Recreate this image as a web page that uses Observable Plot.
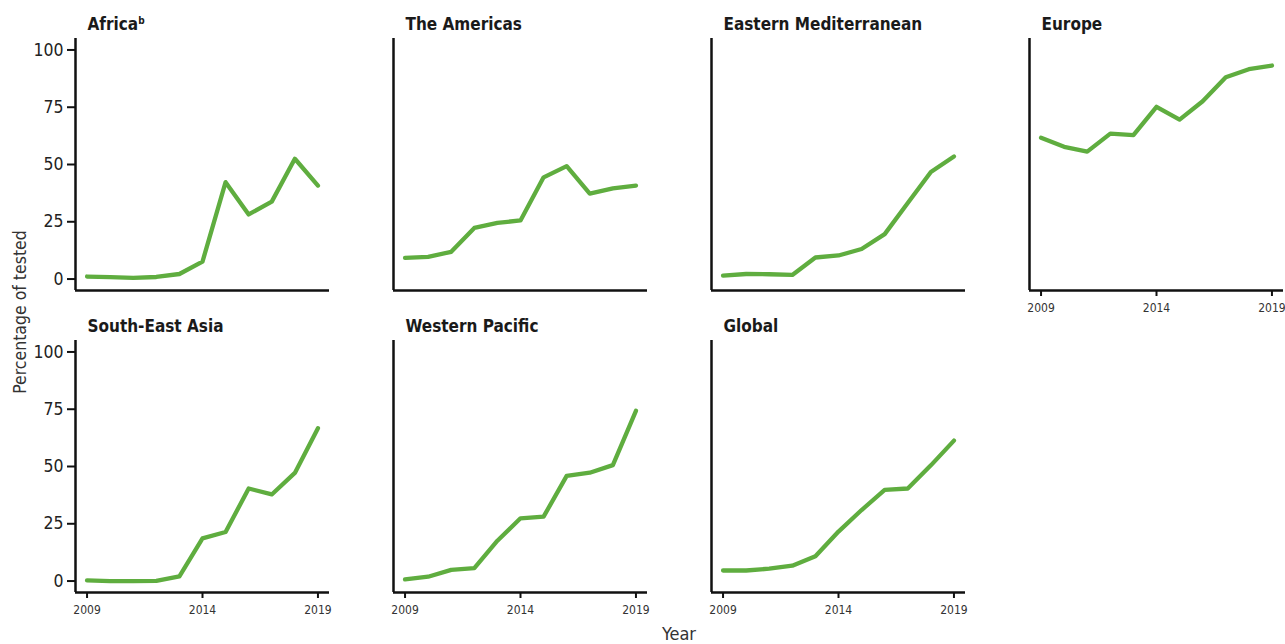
<!DOCTYPE html>
<html>
<head>
<meta charset="utf-8">
<script src="https://cdn.jsdelivr.net/npm/d3@7"></script>
<script src="https://cdn.jsdelivr.net/npm/@observablehq/plot@0.6"></script>
<style>
  html, body { margin: 0; padding: 0; background: #fff; }
  svg { display: block; }
</style>
</head>
<body>
<div id="chart"></div>
<script>
const years = [2009, 2010, 2011, 2012, 2013, 2014, 2015, 2016, 2017, 2018, 2019];
const regions = ["Africa", "The Americas", "Eastern Mediterranean", "Europe", "South-East Asia", "Western Pacific", "Global"];
const africa       = [1.1, 0.8, 0.5, 0.9, 2.2, 7.6, 42.3, 28.2, 33.8, 52.5, 40.8];
const americas     = [9.2, 9.7, 11.9, 22.3, 24.5, 25.6, 44.4, 49.3, 37.3, 39.6, 40.8];
const easternMed   = [1.5, 2.2, 2.1, 1.8, 9.4, 10.3, 13.1, 19.6, 33.2, 46.7, 53.5];
const europe       = [61.7, 57.7, 55.6, 63.5, 62.8, 75.2, 69.6, 77.6, 88.1, 91.6, 93.2];
const southEastAsia = [0.3, 0.0, 0.0, 0.1, 2.0, 18.6, 21.4, 40.4, 37.8, 47.2, 66.7];
const westernPacific = [0.7, 1.9, 4.9, 5.6, 17.6, 27.4, 28.1, 45.9, 47.3, 50.6, 74.3];
const globalSeries = [4.6, 4.6, 5.4, 6.7, 10.8, 21.6, 31.0, 39.8, 40.4, 50.5, 61.3];
const seriesValues = [africa, americas, easternMed, europe, southEastAsia, westernPacific, globalSeries];
const yTicks = [0, 25, 50, 75, 100];
const xTicks = [2009, 2014, 2019];
const yLabel = "Percentage of tested";
const xLabel = "Year";

const NCOL = 4;
const panels = regions.map((name, i) => ({name, col: i % NCOL, row: Math.floor(i / NCOL)}));
const rows = [];
regions.forEach((name, i) => {
  years.forEach((year, j) => {
    rows.push({region: name, year, value: seriesValues[i][j], col: i % NCOL, row: Math.floor(i / NCOL)});
  });
});

const FONT = "'Liberation Sans Narrow', 'DejaVu Sans Condensed', 'Roboto', sans-serif";

const svg = Plot.plot({
  width: 1285,
  height: 644,
  marginLeft: 74,
  marginRight: 2,
  marginTop: 37,
  marginBottom: 51,
  style: {fontFamily: FONT, background: "#fff", color: "#222"},
  x: {domain: [2008.5, 2019.5]},
  y: {domain: [-5, 105]},
  fx: {domain: [0, 1, 2, 3], paddingInner: 0.2023, paddingOuter: 0, axis: null},
  fy: {domain: [0, 1], paddingInner: 0.165, paddingOuter: 0, axis: null},
  marks: [
    Plot.axisY({ticks: yTicks, facetAnchor: "left", tickSize: 8, tickPadding: 4, fontSize: 17.5, label: null, stroke: "#111", strokeWidth: 2, color: "#222"}),
    Plot.axisX({ticks: xTicks, tickFormat: "d", facetAnchor: "bottom-empty", tickSize: 6, tickPadding: 7, fontSize: 12, label: null, stroke: "#111", strokeWidth: 2, color: "#333"}),
    Plot.ruleX(panels, {x: () => 2008.5, fx: "col", fy: "row", stroke: "#111", strokeWidth: 2.5}),
    Plot.ruleY(panels, {y: () => -5, fx: "col", fy: "row", stroke: "#111", strokeWidth: 2.5}),
    Plot.line(rows, {x: "year", y: "value", z: "region", fx: "col", fy: "row", stroke: "#5fad3f", strokeWidth: 4.3}),
    Plot.text(panels, {text: "name", fx: "col", fy: "row", frameAnchor: "top-left", textAnchor: "start", lineAnchor: "bottom", dx: 12, dy: -9, fontSize: 17, fontWeight: "bold", fill: "#1a1a1a"})
  ]
});

// superscript on Africa
d3.select(svg).selectAll("text").filter(function() { return this.textContent === "Africa"; })
  .append("tspan").attr("font-size", 10).attr("dy", "-0.55em").text("b");

// axis titles
const s = d3.select(svg);
s.append("text")
  .attr("transform", "translate(26,312) rotate(-90)")
  .attr("text-anchor", "middle")
  .attr("font-size", 17.5)
  .attr("fill", "#333")
  .text(yLabel);
s.append("text")
  .attr("x", 679)
  .attr("y", 640)
  .attr("text-anchor", "middle")
  .attr("font-size", 18)
  .attr("fill", "#333")
  .text(xLabel);

document.getElementById("chart").appendChild(svg);
</script>
</body>
</html>
